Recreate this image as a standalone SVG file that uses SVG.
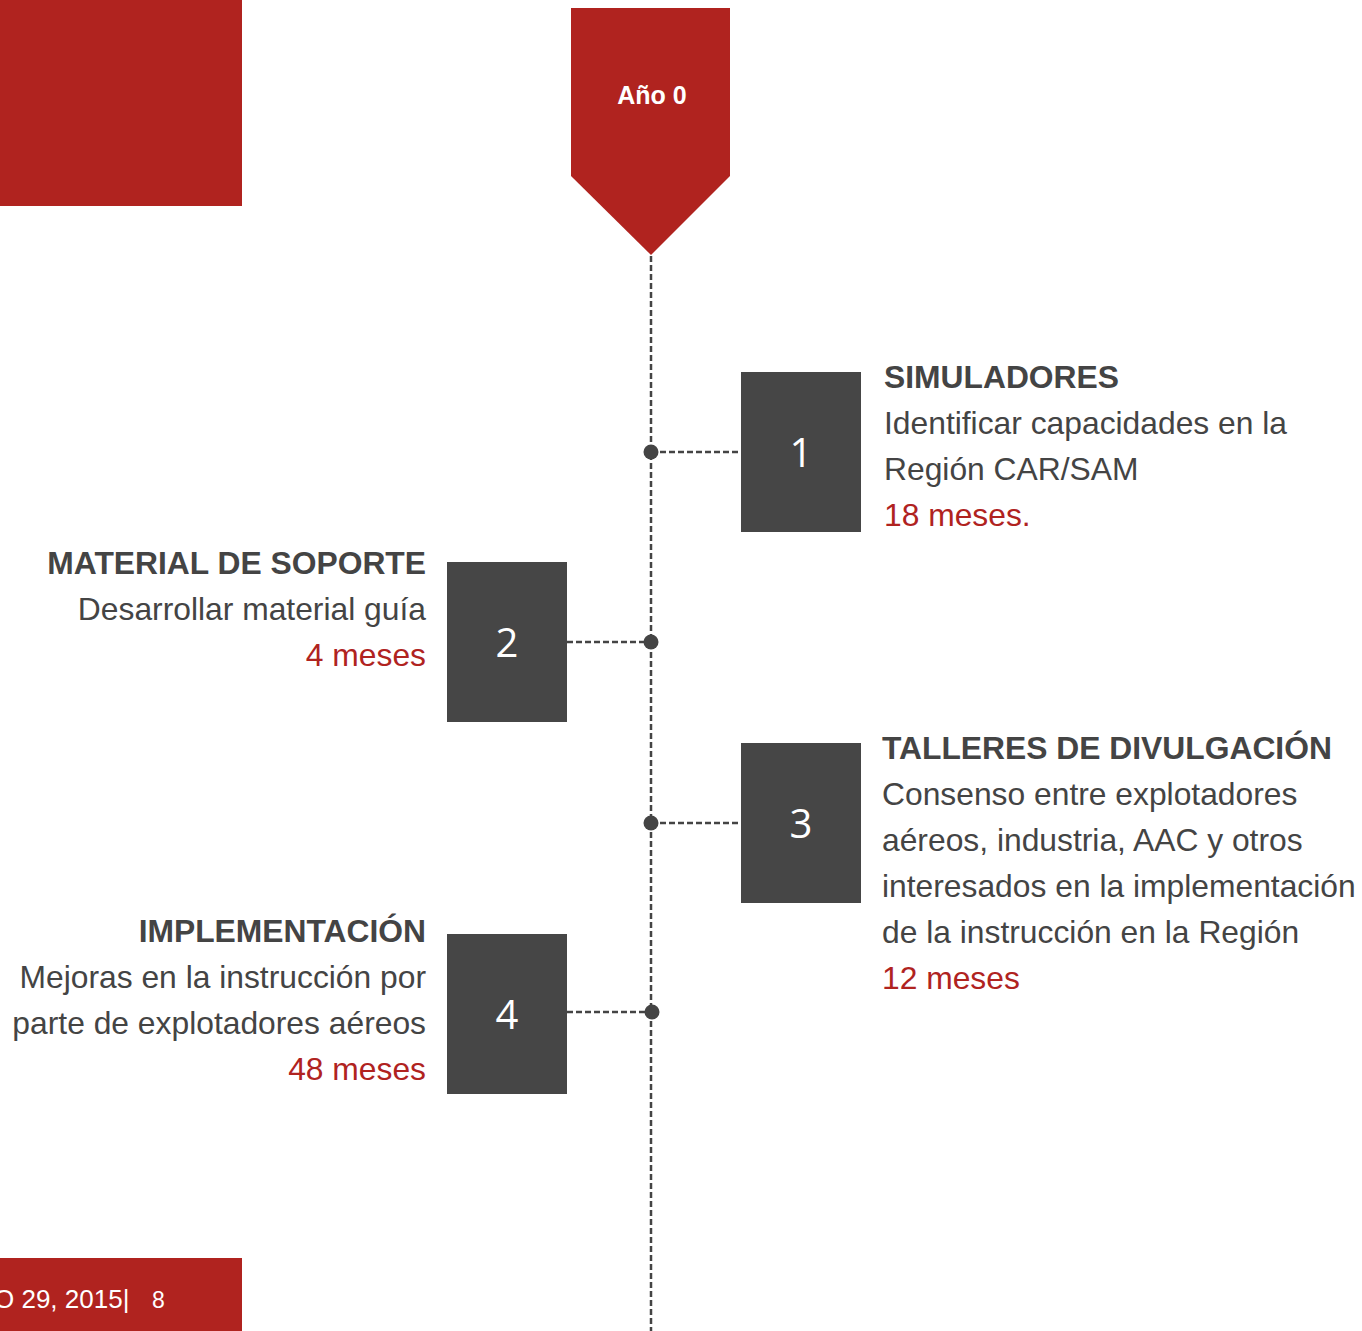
<svg xmlns="http://www.w3.org/2000/svg" width="1362" height="1331" viewBox="0 0 1362 1331">
<style>
.red{fill:#B0231F}
.box{fill:#464646}
.num{font-family:"Open Sans","Liberation Sans",sans-serif;font-weight:400;font-size:40px;fill:#fff;text-anchor:middle}
.ttl{font-family:"Liberation Sans",Arial,sans-serif;font-weight:bold;font-size:31.8px;fill:#444}
.txt{font-family:"Liberation Sans",Arial,sans-serif;font-size:31.8px;fill:#444}
.dur{font-family:"Liberation Sans",Arial,sans-serif;font-size:31.8px;fill:#B0231F}
.end{text-anchor:end}
.dash{stroke:#444;stroke-width:2.5;stroke-dasharray:6 3;fill:none}
.dot{fill:#444}
</style>
<rect width="1362" height="1331" fill="#fff"/>
<rect id="topbar" class="red" x="0" y="0" width="242" height="206"/>
<g id="year0">
<polygon class="red" points="571,8 730,8 730,176 651,255 571,176"/>
<text x="652" y="104" font-family="Liberation Sans,Arial,sans-serif" font-weight="bold" font-size="25" fill="#fff" text-anchor="middle">Año 0</text>
</g>
<g id="connectors">
<line class="dash" x1="651" y1="256" x2="651" y2="1331"/>
<line class="dash" x1="651" y1="452" x2="741" y2="452"/>
<line class="dash" x1="567" y1="642" x2="651" y2="642"/>
<line class="dash" x1="651" y1="823" x2="741" y2="823"/>
<line class="dash" x1="567" y1="1012" x2="652" y2="1012"/>
<circle class="dot" cx="651" cy="452" r="7.5"/>
<circle class="dot" cx="651" cy="642" r="7.5"/>
<circle class="dot" cx="651" cy="823" r="7.5"/>
<circle class="dot" cx="652" cy="1012" r="7.5"/>
</g>
<g id="node1">
<rect class="box" x="741" y="372" width="120" height="160"/>
<text class="num" x="801" y="467">1</text>
<text class="ttl" x="884" y="388">SIMULADORES</text>
<text class="txt" x="884" y="434">Identificar capacidades en la</text>
<text class="txt" x="884" y="480">Región CAR/SAM</text>
<text class="dur" x="884" y="526">18 meses.</text>
</g>
<g id="node2">
<rect class="box" x="447" y="562" width="120" height="160"/>
<text class="num" x="507" y="657">2</text>
<text class="ttl end" x="426" y="574">MATERIAL DE SOPORTE</text>
<text class="txt end" x="426" y="620">Desarrollar material guía</text>
<text class="dur end" x="426" y="666">4 meses</text>
</g>
<g id="node3">
<rect class="box" x="741" y="743" width="120" height="160"/>
<text class="num" x="801" y="838">3</text>
<text class="ttl" x="882" y="759">TALLERES DE DIVULGACIÓN</text>
<text class="txt" x="882" y="805">Consenso entre explotadores</text>
<text class="txt" x="882" y="851">aéreos, industria, AAC y otros</text>
<text class="txt" x="882" y="897">interesados en la implementación</text>
<text class="txt" x="882" y="943">de la instrucción en la Región</text>
<text class="dur" x="882" y="989">12 meses</text>
</g>
<g id="node4">
<rect class="box" x="447" y="934" width="120" height="160"/>
<text class="num" x="507" y="1029">4</text>
<text class="ttl end" x="426" y="942">IMPLEMENTACIÓN</text>
<text class="txt end" x="426" y="988">Mejoras en la instrucción por</text>
<text class="txt end" x="426" y="1034">parte de explotadores aéreos</text>
<text class="dur end" x="426" y="1080">48 meses</text>
</g>
<g id="footer">
<rect class="red" x="0" y="1258" width="242" height="73"/>
<text x="-6" y="1308" font-family="Liberation Sans,Arial,sans-serif" font-size="26" fill="#fff">O 29, 2015|</text>
<text x="152" y="1308" font-family="Liberation Sans,Arial,sans-serif" font-size="23" fill="#fff">8</text>
</g>
</svg>
